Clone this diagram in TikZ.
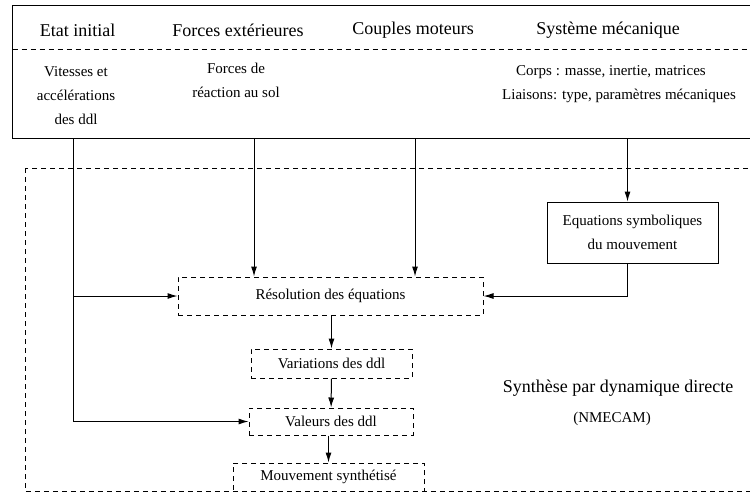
\documentclass[tikz,border=0pt]{standalone}
\usepackage{fontspec}
\setmainfont{Liberation Serif}
\usetikzlibrary{arrows.meta}

\begin{document}
\begin{tikzpicture}[x=0.6pt,y=-0.6pt,line width=0.6pt,
  grand/.style={font=\fontsize{10.8}{13}\selectfont},
  petit/.style={font=\fontsize{9}{14.4}\selectfont,align=center},
  pointille/.style={dash pattern=on 3pt off 2.4pt},
  boite/.style={draw,petit,inner sep=0pt},
  fleche/.style={-{Latex[length=6pt,width=3.6pt]}}]
\useasboundingbox (0,0) rectangle (750,493);
% cadre des donnees
\draw (12.5,5) rectangle (752,138);
\draw[pointille] (12.5,49) -- (752,49);
\node[grand] (etat) at (77.5,30) {Etat initial};
\node[grand] (forces) at (238,30) {Forces extérieures};
\node[grand] (couples) at (413,30) {Couples moteurs};
\node[grand] (systeme) at (608,30) {Système mécanique};
\node[petit] (vitesses) at (76,96) {Vitesses et\\accélérations\\des ddl};
\node[petit] (reaction) at (236,80.5) {Forces de\\réaction au sol};
\node[petit] (corps) at (611,72) {Corps : masse, inertie, matrices};
\node[petit] (liaisons) at (619,96) {Liaisons: type, paramètres mécaniques};
\coordinate (c1) at (73,138);
\coordinate (c2) at (254,138);
\coordinate (c3) at (415,138);
\coordinate (c4) at (627.5,138);
% synthese
\draw[pointille] (25,168) rectangle (752,491);
\node[grand] (synthese) at (618,388) {Synthèse par dynamique directe};
\node[petit] (nmecam) at (612,419) {(NMECAM)};
\node[boite,minimum width=102.6pt,minimum height=36.6pt] (eqs) at (632.5,232.5)
  {Equations symboliques\\du mouvement};
\node[boite,pointille,minimum width=183pt,minimum height=22.8pt] (resol) at (330.5,296)
  {Résolution des équations};
\node[boite,pointille,minimum width=96.6pt,minimum height=17.4pt] (varia) at (331.5,363.5)
  {Variations des ddl};
\node[boite,pointille,minimum width=98.4pt,minimum height=16.2pt] (valeurs) at (331,421.5)
  {Valeurs des ddl};
\node[boite,pointille,minimum width=114.6pt,minimum height=16.8pt] (mouv) at (328.5,477)
  {Mouvement synthétisé};
% liaisons
\draw[fleche] (c1) |- (valeurs.west);
\draw[fleche] (c1 |- resol.west) -- (resol.west);
\draw[fleche] (c2) -- (c2 |- resol.north);
\draw[fleche] (c3) -- (c3 |- resol.north);
\draw[fleche] (c4) -- (c4 |- eqs.north);
\draw[fleche] (c4 |- eqs.south) |- (resol.east);
\draw[fleche] (resol.south -| varia.north) -- (varia.north);
\draw[fleche] (varia) -- (valeurs);
\draw[fleche] (valeurs.south -| mouv.north) -- (mouv.north);
\end{tikzpicture}
\end{document}
